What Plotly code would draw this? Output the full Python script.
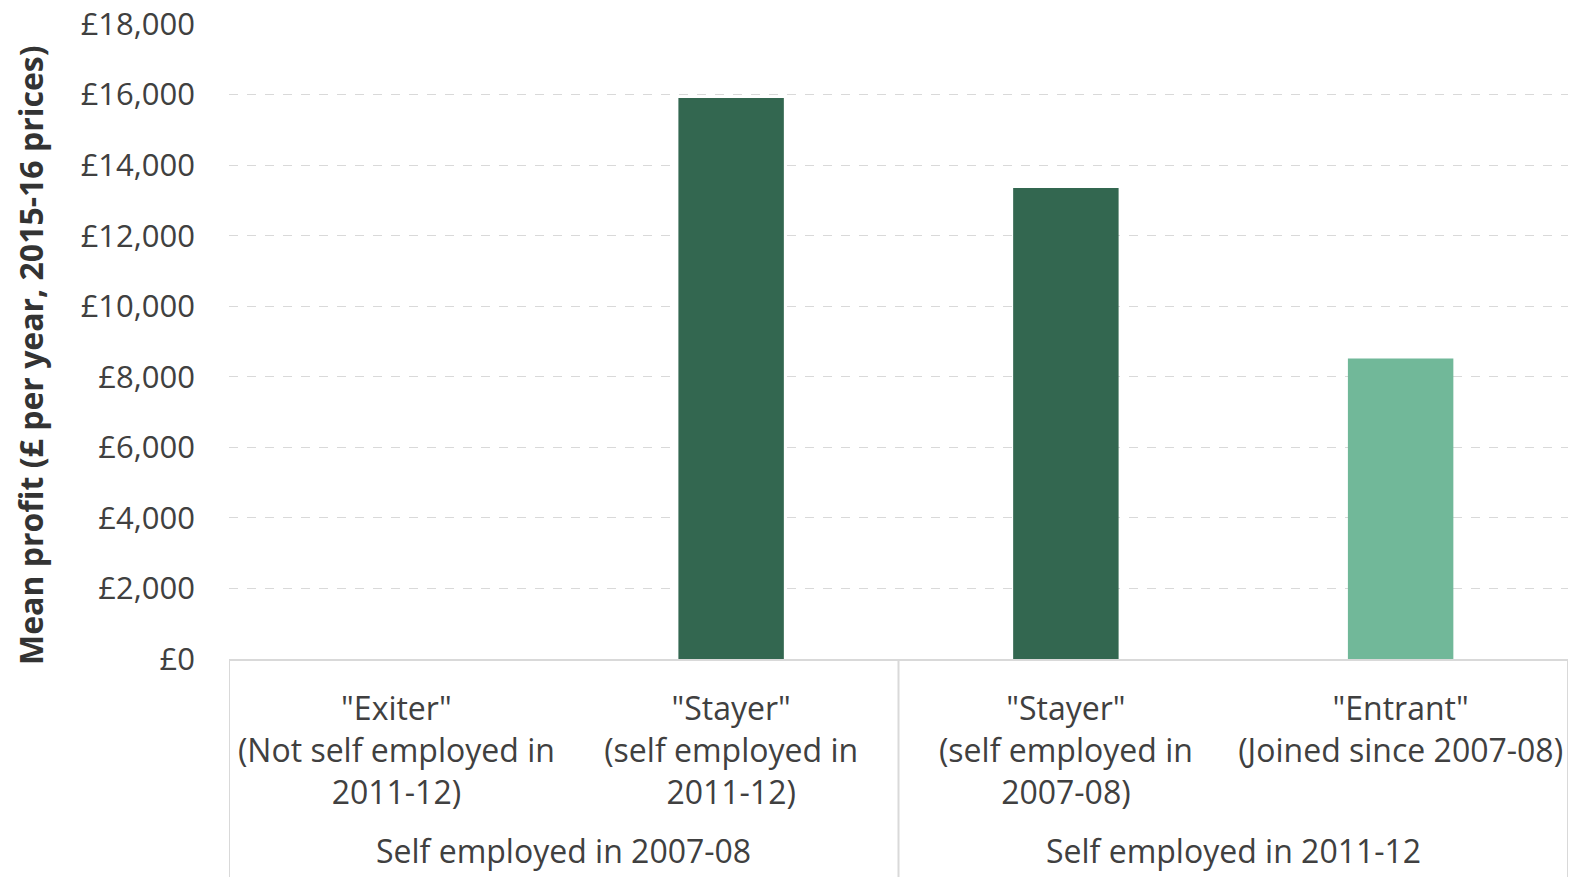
import plotly.graph_objects as go

# Survey groups and mean profit (£ per year, 2015-16 prices)
categories = ['"Exiter"<br>(Not self employed in<br>2011-12)',
              '"Stayer"<br>(self employed in<br>2011-12)',
              '"Stayer"<br>(self employed in<br>2007-08)',
              '"Entrant"<br>(Joined since 2007-08)']
mean_profit = [None, 15900, 13350, 8520]
bar_colors = ["#336750", "#336750", "#336750", "#71B899"]

group_names = ["Self employed in 2007-08", "Self employed in 2011-12"]
group_spans = [(0, 1), (2, 3)]  # first and last category index of each group

y_ticks = list(range(0, 18001, 2000))
y_tick_text = ["£{:,}".format(v) for v in y_ticks]

FONT = "Open Sans"
TEXT = "#404040"
LINE = "#d9d9d9"

W, H = 1573, 877
M_L, M_R, M_T, M_B = 229, 5, 24, 218
plot_w = W - M_L - M_R
plot_h = H - M_T - M_B

fig = go.Figure(go.Bar(
    x=categories,
    y=mean_profit,
    marker=dict(color=bar_colors, line=dict(width=0)),
    showlegend=False,
))

fig.update_layout(
    width=W, height=H,
    margin=dict(l=M_L, r=M_R, t=M_T, b=M_B),
    paper_bgcolor="white", plot_bgcolor="white",
    font=dict(family=FONT, size=31, color=TEXT),
    bargap=0.685,
)

fig.update_yaxes(
    range=[0, 18000],
    tickvals=y_ticks, ticktext=y_tick_text,
    showgrid=True, gridcolor=LINE, griddash="dash", gridwidth=1,
    zeroline=False, showline=False,
    ticks="", ticklabelstandoff=33,
    tickfont=dict(family=FONT, size=31, color=TEXT),
    automargin=False,
)

fig.update_xaxes(
    type="category",
    range=[-0.5, len(categories) - 0.5],
    showline=True, linecolor=LINE, linewidth=2,
    showgrid=False,
    ticks="", ticklabelstandoff=21,
    tickfont=dict(family=FONT, size=32, color=TEXT),
    automargin=False,
)

# Divider lines boxing the category labels, one at each group boundary
boundaries = [-0.5] + [last + 0.5 for _, last in group_spans]
for b in boundaries:
    fig.add_shape(type="line", xref="x", yref="paper",
                  x0=b, x1=b, y0=0, y1=-0.4,
                  line=dict(color=LINE, width=2))

# Group labels below the category labels
for name, (first, last) in zip(group_names, group_spans):
    fig.add_annotation(text=name, xref="x", yref="paper",
                       x=(first + last) / 2, y=(H - M_B - 850) / plot_h,
                       xanchor="center", yanchor="middle",
                       showarrow=False,
                       font=dict(family=FONT, size=32, color=TEXT))

# Vertical axis title
fig.add_annotation(text="<b>Mean profit (£ per year, 2015-16 prices)</b>",
                   xref="paper", yref="paper",
                   x=(30 - M_L) / plot_w, y=(H - M_B - 355) / plot_h,
                   xanchor="center", yanchor="middle",
                   textangle=-90, showarrow=False,
                   font=dict(family=FONT, size=32, color="#333333"))

fig.write_html("out.html")
